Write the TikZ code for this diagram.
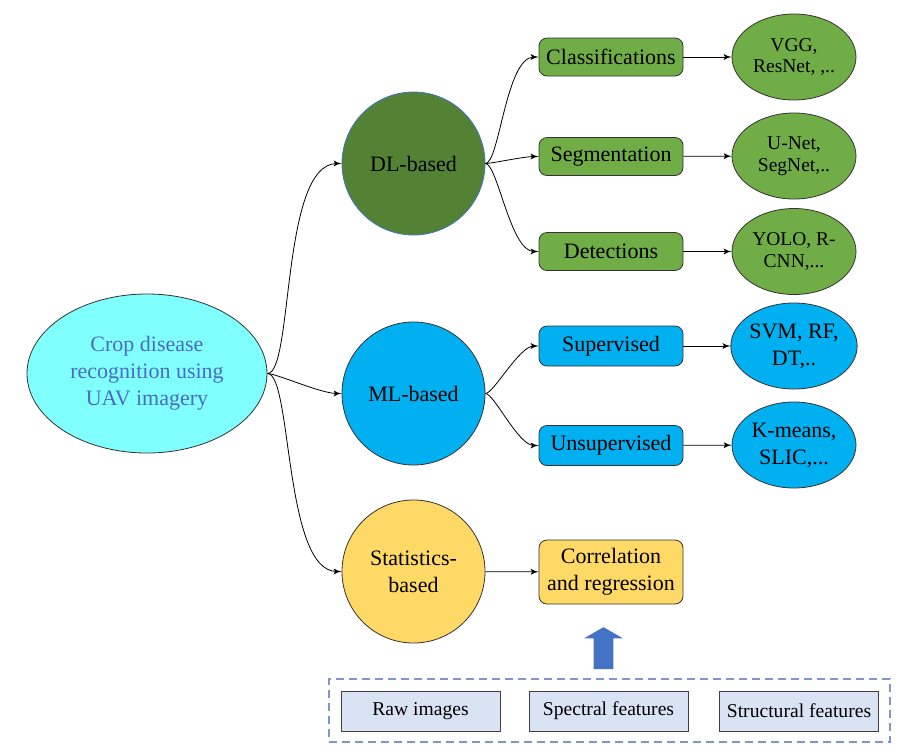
\documentclass[tikz,border=0pt]{standalone}
\usepackage{fontspec}
\setmainfont{Liberation Serif}
\usepackage{tikz}
\usetikzlibrary{arrows,shapes}
\definecolor{dlgreen}{HTML}{548235}
\definecolor{boxgreen}{HTML}{70AD47}
\definecolor{mlblue}{HTML}{00B0F0}
\definecolor{statyellow}{HTML}{FFD966}
\definecolor{rootcyan}{HTML}{80FFFF}
\definecolor{roottext}{HTML}{4A6CC0}
\definecolor{inputfill}{HTML}{DAE3F3}
\definecolor{arrowblue}{HTML}{4472C4}
\definecolor{dashblue}{HTML}{7F98C8}
\tikzstyle{root}=[ellipse,draw=black!80,fill=rootcyan,text=roottext,minimum width=120pt,minimum height=79.5pt,inner sep=0pt,align=center]
\tikzstyle{method}=[circle,draw=black!80,minimum size=71.5pt,inner sep=0pt,align=center]
\tikzstyle{task}=[rectangle,rounded corners=4pt,draw=black!80,minimum width=72pt,minimum height=19pt,inner sep=0pt,align=center]
\tikzstyle{model}=[ellipse,draw=black!80,minimum width=62pt,minimum height=43pt,inner sep=0pt,align=center,font=\fontsize{9.75}{10.8}\selectfont]
\tikzstyle{input}=[rectangle,draw=black!75,fill=inputfill,minimum width=79.5pt,minimum height=20pt,inner sep=0pt,font=\fontsize{9.8}{12}\selectfont]
\tikzstyle{edge}=[draw,thin,->,>=latex']
\tikzstyle{branch}=[edge,out=0,in=180,out looseness=.3,in looseness=.7]

\begin{document}
\begin{tikzpicture}[x=0.5pt,y=-0.5pt,font=\fontsize{11}{13.5}\selectfont]
  \useasboundingbox (0,0) rectangle (905,751);
  % root and the three families
  \node[root] (crop) at (147,373.5) {Crop disease\\recognition using\\UAV imagery};
  \node[method,fill=dlgreen,draw=arrowblue] (dl) at (413.5,163.5) {DL-based};
  \node[method,fill=mlblue] (ml) at (413.5,393.5) {ML-based};
  \node[method,fill=statyellow] (stat) at (413.5,571.5) {Statistics-\\based};
  % tasks
  \node[task,fill=boxgreen] (cls) at (611,57) {Classifications};
  \node[task,fill=boxgreen] (seg) at (611,156.5) {Segmentation};
  \node[task,fill=boxgreen] (det) at (611,251.5) {Detections};
  \node[task,fill=mlblue,minimum height=20pt] (sup) at (611,346) {Supervised};
  \node[task,fill=mlblue,minimum height=20pt] (unsup) at (611,445.5) {Unsupervised};
  \node[task,fill=statyellow,minimum height=32pt] (corr) at (611,572) {Correlation\\and regression};
  % models
  \node[model,fill=boxgreen] (vgg) at (794,57) {VGG,\\ResNet, ,..};
  \node[model,fill=boxgreen] (unet) at (794,156) {U-Net,\\SegNet,..};
  \node[model,fill=boxgreen] (yolo) at (794,251.5) {YOLO, R-\\CNN,...};
  \node[model,fill=mlblue,font=\fontsize{11}{13.5}\selectfont] (svm) at (794,346) {SVM, RF,\\DT,..};
  \node[model,fill=mlblue,font=\fontsize{11}{13.5}\selectfont] (kmeans) at (794,445) {K-means,\\SLIC,...};
  % inputs
  \node[draw=dashblue,dashed,dash pattern=on 4pt off 2.5pt,line width=0.6pt,minimum width=280.5pt,minimum height=31.5pt,inner sep=0pt] (inputs) at (609.5,710.5) {};
  \node[input] (raw) at (420.5,711) {Raw images};
  \node[input] (spec) at (608.5,711) {Spectral features};
  \node[input] (struct) at (799,711) {Structural features};
  \node[single arrow,fill=arrowblue,rotate=90,minimum height=21pt,minimum width=19pt,single arrow head extend=4.75pt,single arrow tip angle=120,inner xsep=0pt,inner ysep=4.75pt] (up) at (603.5,651) {};
  % connectors
  \draw[branch] (crop.east) to (dl.west);
  \draw[branch] (crop.east) to (ml.west);
  \draw[branch] (crop.east) to (stat.west);
  \draw[branch] (dl.east) to (cls.west);
  \draw[branch] (dl.east) to (seg.west);
  \draw[branch] (dl.east) to (det.west);
  \draw[branch] (ml.east) to (sup.west);
  \draw[branch] (ml.east) to (unsup.west);
  \draw[edge] (stat) to (corr);
  \draw[edge] (cls) to (vgg);
  \draw[edge] (seg) to (unet);
  \draw[edge] (det) to (yolo);
  \draw[edge] (sup) to (svm);
  \draw[edge] (unsup) to (kmeans);
\end{tikzpicture}
\end{document}
